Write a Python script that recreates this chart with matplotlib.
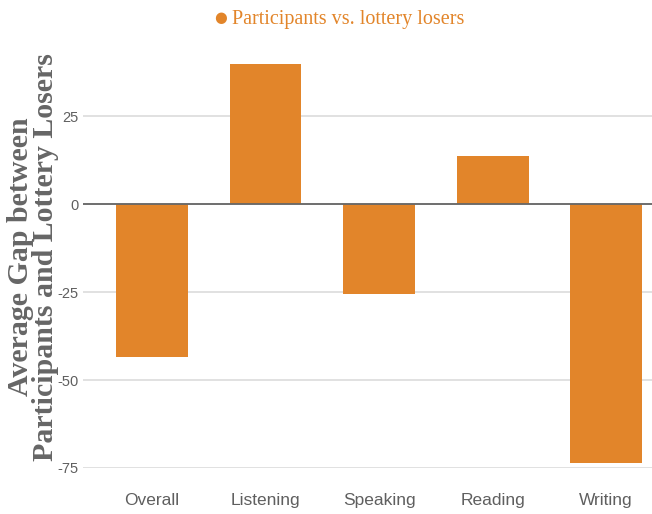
import numpy as np
import matplotlib.pyplot as plt

# values
categories = ['Overall', 'Listening', 'Speaking', 'Reading', 'Writing']
gaps = [-43.5, 40.0, -25.6, 13.6, -73.6]
y_ticks = [-75, -50, -25, 0, 25]

orange = '#E2852A'
gray_text = '#5f5f5f'

fig = plt.figure(figsize=(6.52, 5.14), dpi=100)
ax = fig.add_axes([0.1273, 0.0895, 0.8727, 0.821])

x = np.arange(len(categories))
ax.bar(x, gaps, width=0.634, color=orange, zorder=3)

ax.set_ylim(-75, 45)
ax.set_xlim(-0.608, 4.405)
ax.set_yticks(y_ticks)
ax.set_yticklabels([str(t) for t in y_ticks], fontfamily='Liberation Sans',
                   fontsize=10.5, color=gray_text)
ax.set_xticks(x)
ax.set_xticklabels(categories, fontfamily='Liberation Sans', fontsize=12.5,
                   color=gray_text)
ax.tick_params(axis='both', length=0)
ax.tick_params(axis='y', pad=3)
ax.tick_params(axis='x', pad=18)

# gridlines and zero line
ax.grid(axis='y', color='#dcdcdc', linewidth=1.2, zorder=0)
ax.axhline(0, color='#666666', linewidth=1.3, zorder=4)
for s in ax.spines.values():
    s.set_visible(False)

ax.set_ylabel('Average Gap between\nParticipants and Lottery Losers',
              fontfamily='Liberation Serif', fontweight='bold', fontsize=21.5,
              color='#666666', linespacing=0.9)
ax.yaxis.set_label_coords(-0.043, 0.5)

# legend at top
fig.text(0.338, 0.965, '\u25cf', color=orange, fontsize=10.5,
         ha='center', va='center', fontfamily='DejaVu Sans')
fig.text(0.356, 0.962, 'Participants vs. lottery losers', color=orange,
         fontsize=14.5, ha='left', va='center', fontfamily='Liberation Serif')

fig.savefig('out.png', dpi=100)
